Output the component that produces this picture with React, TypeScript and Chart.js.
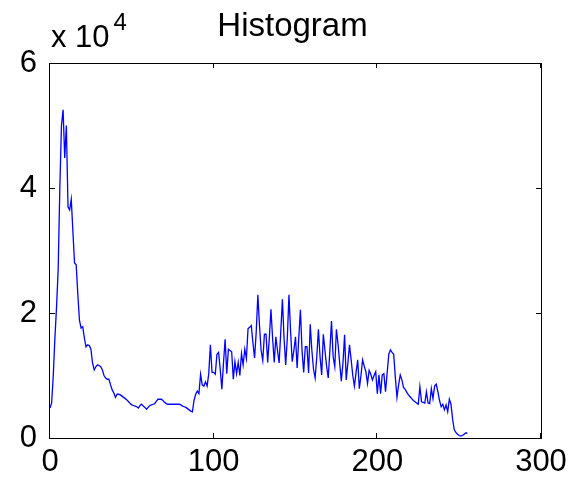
import React, { useEffect, useRef } from "react";
import { Chart, registerables } from "chart.js";

Chart.register(...registerables);

// Histogram counts for grey levels 0..255
const COUNTS: number[] = [
  4800, 5600, 10000, 16000, 21000, 27000, 40000, 50000, 52500, 44800,
  50000, 37000, 36500, 38200, 33000, 28000, 27700, 23000, 18800, 17600,
  17800, 16000, 14600, 14900, 14800, 14200, 12000, 10900, 11400, 11700,
  11600, 11400, 10900, 10000, 9600, 9400, 9400, 8500, 7700, 7200,
  6500, 7000, 7000, 6900, 6700, 6500, 6300, 6100, 5800, 5500,
  5300, 5200, 5100, 5000, 4800, 5200, 5400, 5100, 4900, 4600,
  4900, 5200, 5300, 5400, 5500, 5900, 6200, 6200, 6200, 6000,
  5700, 5500, 5400, 5400, 5400, 5400, 5400, 5400, 5400, 5400,
  5300, 5100, 5000, 4900, 4700, 4500, 4300, 4200, 6000, 7000,
  7500, 7100, 10200, 8500, 8300, 9000, 8300, 10300, 14900, 10500,
  10500, 10200, 13400, 13700, 11000, 7800, 12000, 15800, 10300, 14200,
  14000, 13800, 9400, 12200, 10300, 12100, 10000, 13500, 11700, 14200,
  12700, 17500, 17700, 18000, 15200, 12800, 17000, 22900, 18000, 14000,
  12400, 16600, 16600, 12100, 16000, 20600, 16000, 12100, 16200, 14000,
  12000, 17000, 22200, 16000, 11700, 16000, 22900, 17000, 12200, 14000,
  16200, 11200, 16000, 20500, 14000, 10500, 14600, 14600, 10400, 18200,
  14000, 11000, 9600, 13000, 17400, 13000, 10100, 16600, 14000, 11500,
  9600, 14000, 18700, 13000, 11400, 17400, 15000, 12000, 9100, 12000,
  16500, 9300, 12000, 14900, 12500, 10000, 8300, 10500, 12500, 7900,
  10000, 12500, 11500, 10600, 8700, 10800, 10200, 9300, 10000, 10600,
  7100, 10100, 7100, 10100, 10300, 7400, 10400, 13400, 14100, 13700,
  13400, 9700, 6500, 8500, 10100, 9300, 8100, 7800, 7300, 6900,
  6600, 6300, 6000, 5800, 5600, 5400, 8200, 5800, 5700, 5600,
  7400, 5600, 5500, 7900, 6300, 8300, 8600, 7400, 6000, 5000,
  5400, 4500, 5300, 4200, 6200, 5400, 3000, 1300, 900, 600,
  400, 300, 400, 600, 800, 800,
];

const X_TICKS: number[] = [0, 100, 200, 300];
const Y_TICKS: number[] = [0, 20000, 40000, 60000];
const TITLE = "Histogram";
const EXP_BASE = "x 10";
const EXP_POWER = "4";

const FONT = '"Liberation Sans", Arial, Helvetica, sans-serif';

const boxPlugin = {
  id: "matlabBox",
  afterDraw(chart: any) {
    const { ctx, chartArea } = chart;
    const { left, right, top, bottom } = chartArea;
    const xs = chart.scales.x;
    const ys = chart.scales.y;
    ctx.save();
    ctx.strokeStyle = "#000";
    ctx.lineWidth = 1;
    ctx.strokeRect(Math.round(left) - 0.5, Math.round(top) + 0.5, Math.round(right - left) + 1, Math.round(bottom - top));
    const tl = 5;
    ctx.beginPath();
    for (const t of X_TICKS) {
      const px = Math.round(xs.getPixelForValue(t)) - 0.5;
      ctx.moveTo(px, bottom);
      ctx.lineTo(px, bottom - tl);
      ctx.moveTo(px, top);
      ctx.lineTo(px, top + tl);
    }
    for (const t of Y_TICKS) {
      const py = Math.round(ys.getPixelForValue(t)) + 0.5;
      ctx.moveTo(left, py);
      ctx.lineTo(left + tl, py);
      ctx.moveTo(right, py);
      ctx.lineTo(right - tl, py);
    }
    ctx.stroke();

    ctx.fillStyle = "#000";
    ctx.textBaseline = "alphabetic";
    ctx.textAlign = "center";
    ctx.font = `33px ${FONT}`;
    ctx.fillText(TITLE, (left + right) / 2 - 3, 36);

    ctx.textAlign = "left";
    ctx.font = `31px ${FONT}`;
    ctx.fillText(EXP_BASE, 51, 47);
    const w = ctx.measureText(EXP_BASE).width;
    ctx.font = `24px ${FONT}`;
    ctx.fillText(EXP_POWER, 51 + w + 4, 30);
    ctx.restore();
  },
};

export default function App() {
  const ref = useRef<HTMLCanvasElement | null>(null);

  useEffect(() => {
    if (!ref.current) return;
    const chart = new Chart(ref.current, {
      type: "line",
      data: {
        datasets: [
          {
            data: COUNTS.map((v, i) => ({ x: i, y: v })),
            borderColor: "#0000ff",
            borderWidth: 1.3,
            pointRadius: 0,
            fill: false,
            tension: 0,
          },
        ],
      },
      options: {
        animation: false,
        responsive: false,
        maintainAspectRatio: false,
        layout: { padding: { top: 63, right: 34, left: 0, bottom: 0 } },
        plugins: {
          legend: { display: false },
          tooltip: { enabled: false },
          title: { display: false },
        },
        scales: {
          x: {
            type: "linear",
            min: 0,
            max: 300,
            afterBuildTicks: (scale: any) => {
              scale.ticks = X_TICKS.map((v) => ({ value: v }));
            },
            ticks: {
              color: "#000",
              font: { family: FONT, size: 31 },
              padding: 6,
              maxRotation: 0,
              autoSkip: false,
              callback: (v: any) => String(v),
            },
            grid: { display: false, drawTicks: false },
            border: { display: false },
            afterFit: (scale: any) => {
              scale.height = 46;
            },
          },
          y: {
            type: "linear",
            min: 0,
            max: 60000,
            afterBuildTicks: (scale: any) => {
              scale.ticks = Y_TICKS.map((v) => ({ value: v }));
            },
            ticks: {
              color: "#000",
              font: { family: FONT, size: 31 },
              padding: 13,
              autoSkip: false,
              callback: (v: any) => String(Number(v) / 10000),
            },
            grid: { display: false, drawTicks: false },
            border: { display: false },
            afterFit: (scale: any) => {
              scale.width = 50;
            },
          },
        },
      },
      plugins: [boxPlugin],
    });
    return () => chart.destroy();
  }, []);

  return (
    <div style={{ position: "fixed", left: 0, top: 0, width: 575, height: 484, background: "#fff" }}>
      <canvas ref={ref} width={575} height={484} style={{ display: "block" }} />
    </div>
  );
}
